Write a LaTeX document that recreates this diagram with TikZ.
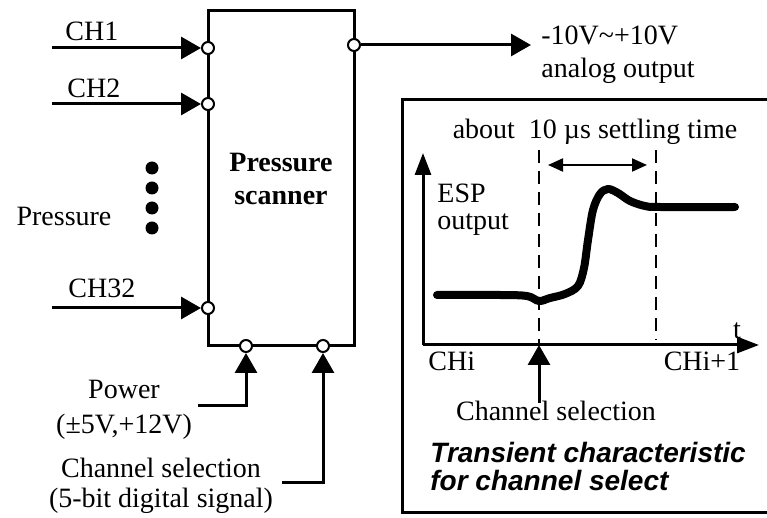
\documentclass[tikz,border=0pt]{standalone}
\usepackage{fontspec}
\setmainfont{Liberation Serif}
\newfontfamily\headfont{Liberation Sans}
\usetikzlibrary{arrows.meta}

\begin{document}
\begin{tikzpicture}[
  x=0.5pt, y=-0.5pt,
  txt/.style={font=\fontsize{14}{16.5}\selectfont, inner sep=0pt, align=center},
  head/.style={font=\fontsize{14}{14}\selectfont\headfont\bfseries\itshape, inner sep=0pt, align=left},
  port/.style={draw, circle, fill=white, line width=1pt, minimum size=6pt, inner sep=0pt},
  dot/.style={fill, circle, minimum size=6.5pt, inner sep=0pt},
  arrow/.style={-{Triangle[length=10pt, width=11pt]}, line width=1.5pt},
  axis/.style={-{Triangle[length=11pt, width=8pt]}, line width=1.5pt},
  guide/.style={line width=1.3pt, dash pattern=on 6.5pt off 4pt}
]
\useasboundingbox (0,0) rectangle (767,518);

\node[draw, line width=1.5pt, minimum width=73pt, minimum height=167.5pt, txt, font=\fontsize{14}{16.5}\selectfont\bfseries] (scanner) at (281,178.5) {Pressure\\scanner};

\node[port] (in1) at (208,48) {};
\node[port] (in2) at (208,104) {};
\node[port] (in32) at (208,308) {};
\node[port] (out) at (354,45) {};
\node[port] (pwr) at (246,346) {};
\node[port] (sel) at (323,346) {};

\coordinate (src1) at (52,48);
\coordinate (src2) at (52,104);
\coordinate (src32) at (52,308);
\coordinate (outend) at (531,45);
\coordinate (pwrsrc) at (198,406);
\coordinate (selsrc) at (282,483);

\draw[arrow] (src1) -- (in1);
\draw[arrow] (src2) -- (in2);
\draw[arrow] (src32) -- (in32);
\draw[arrow] (out) -- (outend);
\draw[arrow] (pwrsrc) -| (pwr);
\draw[arrow] (selsrc) -| (sel);

\node[txt, anchor=west] (lch1) at (65,31) {CH1};
\node[txt, anchor=west] (lch2) at (67,88) {CH2};
\node[txt, anchor=west] (lch32) at (68,288) {CH32};
\node[txt] (lpress) at (64,216) {Pressure};
\foreach \y [count=\i] in {168,188,208,228}
  \node[dot] (d\i) at (152,\y) {};
\node[txt, anchor=west, align=left] (lout) at (541,55) {-10V\textasciitilde+10V\\analog output};
\node[txt] (lpwr) at (124,410) {Power\\[1pt](±5V,+12V)};
\node[txt] (lsel) at (161,486) {Channel selection\\[-1.5pt](5-bit digital signal)};

% transient inset
\draw[line width=1.5pt] (780,100) -- (402,100) -- (402,513) -- (780,513);
\node[txt] (lsettle) at (595,132) {about\ \ 10 µs settling time};
\coordinate (origin) at (423,345);
\coordinate (ytop) at (423,153);
\coordinate (xend) at (759,345);
\draw[axis] (origin) -- (ytop);
\draw[axis] (origin) -- (xend);
\draw[guide] (539,150) -- (539,344);
\draw[guide] (656,150) -- (656,340);
\draw[{Triangle[length=7.5pt, width=6.5pt]}-{Triangle[length=7.5pt, width=6.5pt]}, line width=1pt] (548,165) -- (647,165);
\draw[line width=4pt, line cap=round, line join=round] plot[smooth, tension=0.55] coordinates {
  (437,295) (500,295) (527,296) (539,301) (550,298) (565,294) (578,286) (584,268)
  (588,240) (593,210) (600,194) (608,189) (618,193) (630,201) (645,206) (660,207) (735,207)};
\node[txt, anchor=west, align=left] (lesp) at (437,210) {ESP\\[-3pt]output};
\node[txt, anchor=west] (lchi) at (428,361) {CHi};
\node[txt] (lchn) at (702,361) {CHi+1};
\node[txt] (lt) at (737,331) {t};
\coordinate (selbot) at (539,403);
\draw[arrow] (selbot) -- (origin -| selbot);
\node[txt] (lsel2) at (556,411) {Channel selection};
\node[head, anchor=west] (title) at (430,466) {Transient characteristic\\for channel select};
\end{tikzpicture}
\end{document}
